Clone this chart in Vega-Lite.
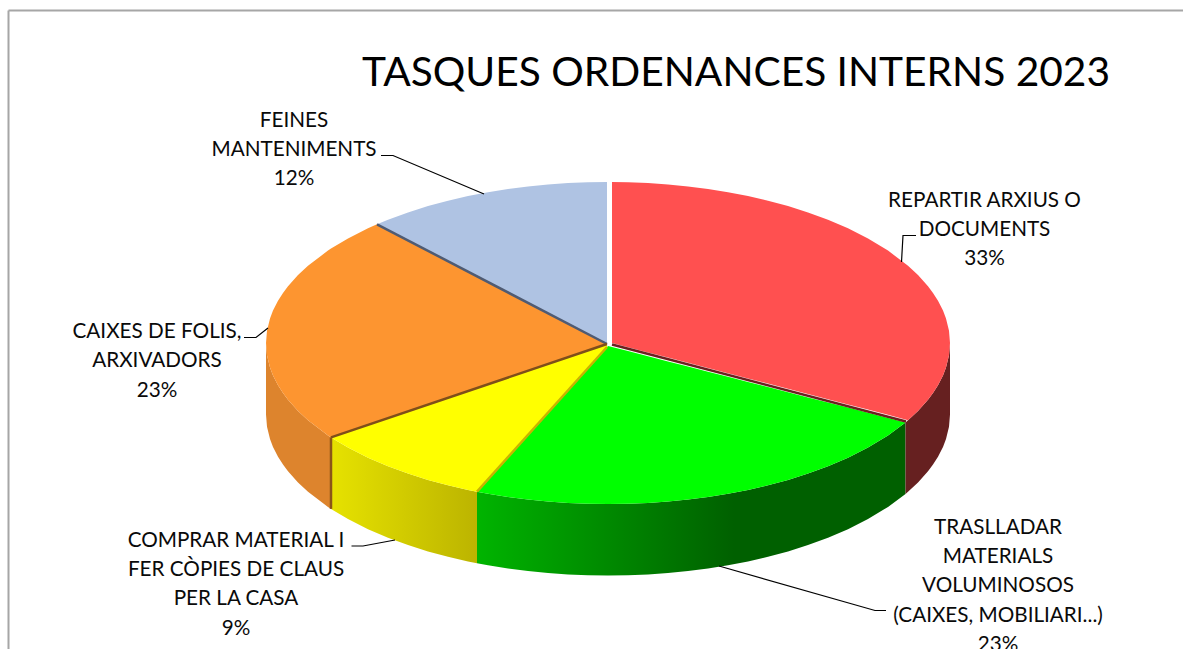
{"$schema":"https://vega.github.io/schema/vega-lite/v6.json","width":1183,"height":649,"padding":0,"autosize":"none","background":"white","view":{"stroke":null},
"title":{"text":"TASQUES ORDENANCES INTERNS 2023","anchor":"start","frame":"group","dx":362,"offset":-127,"baseline":"alphabetic","font":"Lato","fontSize":40.7,"fontWeight":"normal","color":"#000000"},
"resolve":{"scale":{"color":"independent"}},
"datasets":{
"tops":[
{"slice":"REPARTIR","px":4,"top":161,"bottom":0},{"slice":"REPARTIR","px":20,"top":160.7,"bottom":-4.2},{"slice":"REPARTIR","px":40,"top":159.9,"bottom":-9.4},{"slice":"REPARTIR","px":60,"top":158.5,"bottom":-14.6},{"slice":"REPARTIR","px":80,"top":156.5,"bottom":-19.8},{"slice":"REPARTIR","px":100,"top":154,"bottom":-25},{"slice":"REPARTIR","px":120,"top":150.8,"bottom":-30.2},{"slice":"REPARTIR","px":140,"top":146.9,"bottom":-35.4},{"slice":"REPARTIR","px":160,"top":142.3,"bottom":-40.6},{"slice":"REPARTIR","px":180,"top":136.9,"bottom":-45.8},{"slice":"REPARTIR","px":200,"top":130.6,"bottom":-51},{"slice":"REPARTIR","px":220,"top":123.3,"bottom":-56.2},{"slice":"REPARTIR","px":240,"top":114.7,"bottom":-61.4},{"slice":"REPARTIR","px":260,"top":104.6,"bottom":-66.6},{"slice":"REPARTIR","px":280,"top":92.4,"bottom":-71.8},{"slice":"REPARTIR","px":300,"top":77.3,"bottom":-77.3},{"slice":"REPARTIR","px":310,"top":68,"bottom":-68},{"slice":"REPARTIR","px":320,"top":56.8,"bottom":-56.8},{"slice":"REPARTIR","px":325,"top":50.1,"bottom":-50.1},{"slice":"REPARTIR","px":330,"top":42.3,"bottom":-42.3},{"slice":"REPARTIR","px":335,"top":32.4,"bottom":-32.4},{"slice":"REPARTIR","px":338,"top":24.5,"bottom":-24.5},{"slice":"REPARTIR","px":341,"top":12.3,"bottom":-12.3},{"slice":"REPARTIR","px":342,"top":0,"bottom":0},
{"slice":"TRASLLADAR","px":-131,"top":-148.7,"bottom":-148.7},{"slice":"TRASLLADAR","px":-120,"top":-136.5,"bottom":-150.8},{"slice":"TRASLLADAR","px":-100,"top":-114.2,"bottom":-154},{"slice":"TRASLLADAR","px":-80,"top":-92,"bottom":-156.5},{"slice":"TRASLLADAR","px":-60,"top":-69.7,"bottom":-158.5},{"slice":"TRASLLADAR","px":-40,"top":-47.5,"bottom":-159.9},{"slice":"TRASLLADAR","px":-20,"top":-25.2,"bottom":-160.7},{"slice":"TRASLLADAR","px":0,"top":-3,"bottom":-161},{"slice":"TRASLLADAR","px":20,"top":-8.1,"bottom":-160.7},{"slice":"TRASLLADAR","px":40,"top":-13.3,"bottom":-159.9},{"slice":"TRASLLADAR","px":60,"top":-18.4,"bottom":-158.5},{"slice":"TRASLLADAR","px":80,"top":-23.5,"bottom":-156.5},{"slice":"TRASLLADAR","px":100,"top":-28.7,"bottom":-154},{"slice":"TRASLLADAR","px":120,"top":-33.8,"bottom":-150.8},{"slice":"TRASLLADAR","px":140,"top":-39,"bottom":-146.9},{"slice":"TRASLLADAR","px":160,"top":-44.1,"bottom":-142.3},{"slice":"TRASLLADAR","px":180,"top":-49.2,"bottom":-136.9},{"slice":"TRASLLADAR","px":200,"top":-54.4,"bottom":-130.6},{"slice":"TRASLLADAR","px":220,"top":-59.5,"bottom":-123.3},{"slice":"TRASLLADAR","px":240,"top":-64.6,"bottom":-114.7},{"slice":"TRASLLADAR","px":260,"top":-69.8,"bottom":-104.6},{"slice":"TRASLLADAR","px":280,"top":-74.9,"bottom":-92.4},{"slice":"TRASLLADAR","px":297.5,"top":-79.4,"bottom":-79.4},
{"slice":"COMPRAR","px":-277,"top":-94.4,"bottom":-94.4},{"slice":"COMPRAR","px":-260,"top":-88.6,"bottom":-104.6},{"slice":"COMPRAR","px":-240,"top":-81.9,"bottom":-114.7},{"slice":"COMPRAR","px":-220,"top":-75.1,"bottom":-123.3},{"slice":"COMPRAR","px":-200,"top":-68.3,"bottom":-130.6},{"slice":"COMPRAR","px":-180,"top":-61.6,"bottom":-136.9},{"slice":"COMPRAR","px":-160,"top":-54.8,"bottom":-142.3},{"slice":"COMPRAR","px":-140,"top":-48,"bottom":-146.9},{"slice":"COMPRAR","px":-131,"top":-45,"bottom":-148.7},{"slice":"COMPRAR","px":-120,"top":-41.3,"bottom":-136.5},{"slice":"COMPRAR","px":-100,"top":-34.5,"bottom":-114.2},{"slice":"COMPRAR","px":-80,"top":-27.7,"bottom":-92},{"slice":"COMPRAR","px":-60,"top":-21,"bottom":-69.7},{"slice":"COMPRAR","px":-40,"top":-14.2,"bottom":-47.5},{"slice":"COMPRAR","px":-20,"top":-7.4,"bottom":-25.2},{"slice":"COMPRAR","px":-1,"top":-1,"bottom":-4},
{"slice":"CAIXES","px":-342,"top":0,"bottom":0},{"slice":"CAIXES","px":-341,"top":12.3,"bottom":-12.3},{"slice":"CAIXES","px":-338,"top":24.5,"bottom":-24.5},{"slice":"CAIXES","px":-335,"top":32.4,"bottom":-32.4},{"slice":"CAIXES","px":-330,"top":42.3,"bottom":-42.3},{"slice":"CAIXES","px":-325,"top":50.1,"bottom":-50.1},{"slice":"CAIXES","px":-320,"top":56.8,"bottom":-56.8},{"slice":"CAIXES","px":-310,"top":68,"bottom":-68},{"slice":"CAIXES","px":-300,"top":77.3,"bottom":-77.3},{"slice":"CAIXES","px":-280,"top":92.4,"bottom":-92.4},{"slice":"CAIXES","px":-277,"top":94.4,"bottom":-94.4},{"slice":"CAIXES","px":-260,"top":104.6,"bottom":-88.6},{"slice":"CAIXES","px":-240,"top":114.7,"bottom":-81.9},{"slice":"CAIXES","px":-231,"top":118.7,"bottom":-78.8},{"slice":"CAIXES","px":-220,"top":113,"bottom":-75.1},{"slice":"CAIXES","px":-200,"top":102.6,"bottom":-68.3},{"slice":"CAIXES","px":-180,"top":92.2,"bottom":-61.6},{"slice":"CAIXES","px":-160,"top":81.7,"bottom":-54.8},{"slice":"CAIXES","px":-140,"top":71.3,"bottom":-48},{"slice":"CAIXES","px":-120,"top":60.9,"bottom":-41.3},{"slice":"CAIXES","px":-100,"top":50.5,"bottom":-34.5},{"slice":"CAIXES","px":-80,"top":40.1,"bottom":-27.7},{"slice":"CAIXES","px":-60,"top":29.7,"bottom":-21},{"slice":"CAIXES","px":-40,"top":19.3,"bottom":-14.2},{"slice":"CAIXES","px":-20,"top":8.9,"bottom":-7.4},{"slice":"CAIXES","px":-1,"top":-1,"bottom":-1},
{"slice":"FEINES","px":-231,"top":118.7,"bottom":118.7},{"slice":"FEINES","px":-220,"top":123.3,"bottom":113},{"slice":"FEINES","px":-200,"top":130.6,"bottom":102.6},{"slice":"FEINES","px":-180,"top":136.9,"bottom":92.2},{"slice":"FEINES","px":-160,"top":142.3,"bottom":81.7},{"slice":"FEINES","px":-140,"top":146.9,"bottom":71.3},{"slice":"FEINES","px":-120,"top":150.8,"bottom":60.9},{"slice":"FEINES","px":-100,"top":154,"bottom":50.5},{"slice":"FEINES","px":-80,"top":156.5,"bottom":40.1},{"slice":"FEINES","px":-60,"top":158.5,"bottom":29.7},{"slice":"FEINES","px":-40,"top":159.9,"bottom":19.3},{"slice":"FEINES","px":-20,"top":160.7,"bottom":8.9},{"slice":"FEINES","px":-1,"top":161,"bottom":-1}
],
"sides":[
{"slice":"CAIXES","px":-342,"top":0,"bottom":-71.5},{"slice":"CAIXES","px":-341,"top":-12.3,"bottom":-83.8},{"slice":"CAIXES","px":-338,"top":-24.5,"bottom":-96},{"slice":"CAIXES","px":-335,"top":-32.4,"bottom":-103.9},{"slice":"CAIXES","px":-330,"top":-42.3,"bottom":-113.8},{"slice":"CAIXES","px":-325,"top":-50.1,"bottom":-121.6},{"slice":"CAIXES","px":-320,"top":-56.8,"bottom":-128.3},{"slice":"CAIXES","px":-310,"top":-68,"bottom":-139.5},{"slice":"CAIXES","px":-300,"top":-77.3,"bottom":-148.8},{"slice":"CAIXES","px":-280,"top":-92.4,"bottom":-163.9},{"slice":"CAIXES","px":-277,"top":-94.4,"bottom":-165.9},
{"slice":"COMPRAR","px":-277,"top":-94.4,"bottom":-165.9},{"slice":"COMPRAR","px":-260,"top":-104.6,"bottom":-176.1},{"slice":"COMPRAR","px":-240,"top":-114.7,"bottom":-186.2},{"slice":"COMPRAR","px":-220,"top":-123.3,"bottom":-194.8},{"slice":"COMPRAR","px":-200,"top":-130.6,"bottom":-202.1},{"slice":"COMPRAR","px":-180,"top":-136.9,"bottom":-208.4},{"slice":"COMPRAR","px":-160,"top":-142.3,"bottom":-213.8},{"slice":"COMPRAR","px":-140,"top":-146.9,"bottom":-218.4},{"slice":"COMPRAR","px":-131,"top":-148.7,"bottom":-220.2},
{"slice":"TRASLLADAR","px":-131,"top":-148.7,"bottom":-220.2},{"slice":"TRASLLADAR","px":-120,"top":-150.8,"bottom":-222.3},{"slice":"TRASLLADAR","px":-100,"top":-154,"bottom":-225.5},{"slice":"TRASLLADAR","px":-80,"top":-156.5,"bottom":-228},{"slice":"TRASLLADAR","px":-60,"top":-158.5,"bottom":-230},{"slice":"TRASLLADAR","px":-40,"top":-159.9,"bottom":-231.4},{"slice":"TRASLLADAR","px":-20,"top":-160.7,"bottom":-232.2},{"slice":"TRASLLADAR","px":0,"top":-161,"bottom":-232.5},{"slice":"TRASLLADAR","px":20,"top":-160.7,"bottom":-232.2},{"slice":"TRASLLADAR","px":40,"top":-159.9,"bottom":-231.4},{"slice":"TRASLLADAR","px":60,"top":-158.5,"bottom":-230},{"slice":"TRASLLADAR","px":80,"top":-156.5,"bottom":-228},{"slice":"TRASLLADAR","px":100,"top":-154,"bottom":-225.5},{"slice":"TRASLLADAR","px":120,"top":-150.8,"bottom":-222.3},{"slice":"TRASLLADAR","px":140,"top":-146.9,"bottom":-218.4},{"slice":"TRASLLADAR","px":160,"top":-142.3,"bottom":-213.8},{"slice":"TRASLLADAR","px":180,"top":-136.9,"bottom":-208.4},{"slice":"TRASLLADAR","px":200,"top":-130.6,"bottom":-202.1},{"slice":"TRASLLADAR","px":220,"top":-123.3,"bottom":-194.8},{"slice":"TRASLLADAR","px":240,"top":-114.7,"bottom":-186.2},{"slice":"TRASLLADAR","px":260,"top":-104.6,"bottom":-176.1},{"slice":"TRASLLADAR","px":280,"top":-92.4,"bottom":-163.9},{"slice":"TRASLLADAR","px":297.5,"top":-79.4,"bottom":-150.9},
{"slice":"REPARTIR","px":297.5,"top":-79.4,"bottom":-150.9},{"slice":"REPARTIR","px":300,"top":-77.3,"bottom":-148.8},{"slice":"REPARTIR","px":310,"top":-68,"bottom":-139.5},{"slice":"REPARTIR","px":320,"top":-56.8,"bottom":-128.3},{"slice":"REPARTIR","px":325,"top":-50.1,"bottom":-121.6},{"slice":"REPARTIR","px":330,"top":-42.3,"bottom":-113.8},{"slice":"REPARTIR","px":335,"top":-32.4,"bottom":-103.9},{"slice":"REPARTIR","px":338,"top":-24.5,"bottom":-96},{"slice":"REPARTIR","px":341,"top":-12.3,"bottom":-83.8},{"slice":"REPARTIR","px":342,"top":0,"bottom":-71.5}
],
"edges":[
{"edge":"REPARTIR","px":4,"py":-1.5,"px2":298,"py2":-78.5},
{"edge":"FEINES","px":-231,"py":118.7,"px2":-1,"py2":-1},
{"edge":"CAIXES","px":-277,"py":-94.4,"px2":-1,"py2":-1},
{"edge":"COMPRAR","px":-131,"py":-148.7,"px2":-1,"py2":-4},
{"edge":"CAIXES-COSTAT","px":-277,"py":-94.4,"px2":-277,"py2":-165.9}
],
"frame":[
{"px":-599.5,"py":332.5,"px2":575,"py2":332.5},
{"px":-599.5,"py":332.5,"px2":-599.5,"py2":-306}
],
"leaders":[
{"slice":"FEINES","step":1,"px":-227,"py":187.5},{"slice":"FEINES","step":2,"px":-215,"py":187.5},{"slice":"FEINES","step":3,"px":-124,"py":149},
{"slice":"REPARTIR","step":1,"px":308,"py":107.5},{"slice":"REPARTIR","step":2,"px":295,"py":107.5},{"slice":"REPARTIR","step":3,"px":293.5,"py":81},
{"slice":"CAIXES","step":1,"px":-364,"py":5.5},{"slice":"CAIXES","step":2,"px":-352,"py":5.5},{"slice":"CAIXES","step":3,"px":-340,"py":15},
{"slice":"COMPRAR","step":1,"px":-256.5,"py":-203},{"slice":"COMPRAR","step":2,"px":-245,"py":-203},{"slice":"COMPRAR","step":3,"px":-213,"py":-197},
{"slice":"TRASLLADAR","step":1,"px":278,"py":-267.5},{"slice":"TRASLLADAR","step":2,"px":267,"py":-267.5},{"slice":"TRASLLADAR","step":3,"px":111,"py":-223}
],
"labels":[
{"slice":"FEINES","pct":12,"label":["FEINES","MANTENIMENTS","12%"],"px":-314,"py":222.3},
{"slice":"REPARTIR","pct":33,"label":["REPARTIR ARXIUS O","DOCUMENTS","33%"],"px":376.5,"py":142.3},
{"slice":"CAIXES","pct":23,"label":["CAIXES DE FOLIS,","ARXIVADORS","23%"],"px":-451,"py":11},
{"slice":"COMPRAR","pct":9,"label":["COMPRAR MATERIAL I","FER CÒPIES DE CLAUS","PER LA CASA","9%"],"px":-372,"py":-197.7},
{"slice":"TRASLLADAR","pct":23,"label":["TRASLLADAR","MATERIALS","VOLUMINOSOS","(CAIXES, MOBILIARI...)","23%"],"px":390,"py":-184.7}
]
},
"encoding":{
"x":{"field":"px","type":"quantitative","axis":null,"scale":{"domain":[-608,575],"nice":false,"zero":false}},
"y":{"field":"py","type":"quantitative","axis":null,"scale":{"domain":[-306,343],"nice":false,"zero":false}}
},
"layer":[
{"data":{"name":"frame"},"mark":{"type":"rule","color":"#a6a6a6","strokeWidth":2},"encoding":{"x2":{"field":"px2"},"y2":{"field":"py2"}}},
{"data":{"name":"sides"},"transform":[{"filter":"datum.slice==='CAIXES'"}],"mark":{"type":"area","color":"#dd842d"},"encoding":{"y":{"field":"top","type":"quantitative"},"y2":{"field":"bottom"}}},
{"data":{"name":"sides"},"transform":[{"filter":"datum.slice==='COMPRAR'"}],"mark":{"type":"area","color":{"gradient":"linear","x1":0,"y1":0,"x2":1,"y2":0,"stops":[{"offset":0,"color":"#e6e200"},{"offset":1,"color":"#bcb400"}]}},"encoding":{"y":{"field":"top","type":"quantitative"},"y2":{"field":"bottom"}}},
{"data":{"name":"sides"},"transform":[{"filter":"datum.slice==='TRASLLADAR'"}],"mark":{"type":"area","color":{"gradient":"linear","x1":0,"y1":0,"x2":1,"y2":0,"stops":[{"offset":0,"color":"#00b400"},{"offset":0.6,"color":"#006000"},{"offset":1,"color":"#006000"}]}},"encoding":{"y":{"field":"top","type":"quantitative"},"y2":{"field":"bottom"}}},
{"data":{"name":"sides"},"transform":[{"filter":"datum.slice==='REPARTIR'"}],"mark":{"type":"area","color":"#662020"},"encoding":{"y":{"field":"top","type":"quantitative"},"y2":{"field":"bottom"}}},
{"data":{"name":"tops"},"mark":{"type":"area"},"encoding":{"y":{"field":"top","type":"quantitative"},"y2":{"field":"bottom"},"color":{"field":"slice","type":"nominal","legend":null,"scale":{"domain":["REPARTIR","TRASLLADAR","COMPRAR","CAIXES","FEINES"],"range":["#ff5050","#00ff00","#ffff00","#fd9530","#afc3e3"]}}}},
{"data":{"name":"edges"},"mark":{"type":"rule","strokeWidth":2.5},"encoding":{"x2":{"field":"px2"},"y2":{"field":"py2"},"color":{"field":"edge","type":"nominal","legend":null,"scale":{"domain":["REPARTIR","FEINES","CAIXES","COMPRAR","CAIXES-COSTAT"],"range":["#6b2020","#4f5b73","#7f4f1a","#c8b400","#8a5518"]}}}},
{"data":{"name":"leaders"},"mark":{"type":"line","color":"#000000","strokeWidth":1.2},"encoding":{"detail":{"field":"slice"},"order":{"field":"step","type":"quantitative"}}},
{"data":{"name":"labels"},"mark":{"type":"text","font":"Lato","fontSize":20.7,"lineHeight":29.3,"align":"center","baseline":"middle","color":"#0a0a0a"},"encoding":{"text":{"field":"label"}}}
]
}
